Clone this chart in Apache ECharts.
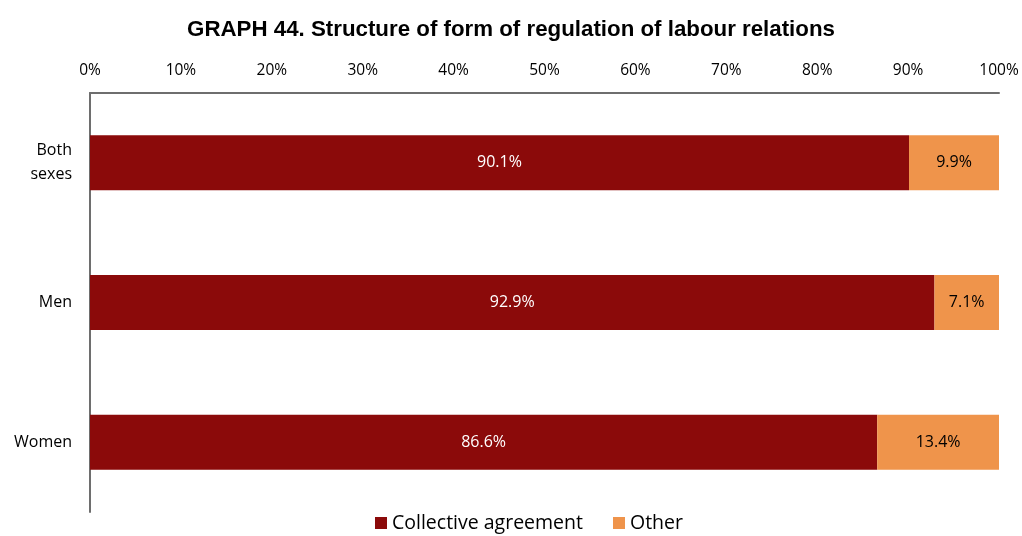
<!DOCTYPE html>
<html>
<head>
<meta charset="utf-8">
<script src="https://cdn.jsdelivr.net/npm/echarts@6/dist/echarts.min.js"></script>
<style>
  html, body { margin: 0; padding: 0; background: #fff; }
  #chart { width: 1022px; height: 536px; }
</style>
</head>
<body>
<div id="chart"></div>
<script>
// Share of employees by form of regulation of labour relations
const categories = ['Both\nsexes', 'Men', 'Women'];
const collectiveAgreement = [90.1, 92.9, 86.6];
const other = [9.9, 7.1, 13.4];
const seriesNames = ['Collective agreement', 'Other'];

const labelFont = '"Open Sans", Lato, sans-serif';

const chart = echarts.init(document.getElementById('chart'));
chart.setOption({
  animation: false,
  title: {
    text: 'GRAPH 44. Structure of form of regulation of labour relations',
    left: 'center',
    top: 14,
    textStyle: { fontFamily: '"Liberation Sans", Arial, sans-serif', fontSize: 22.3, fontWeight: 'bold', color: '#000' }
  },
  grid: { left: 90, right: 23, top: 93, bottom: 24 },
  legend: {
    bottom: -2,
    left: 370,
    itemWidth: 12,
    itemHeight: 12,
    itemGap: 30,
    icon: 'rect',
    textStyle: { fontFamily: labelFont, fontSize: 19.5, color: '#000' },
    data: seriesNames
  },
  xAxis: {
    type: 'value',
    position: 'top',
    min: 0,
    max: 100,
    interval: 10,
    axisLine: { show: true, lineStyle: { color: '#6e6e6e', width: 2 } },
    axisTick: { show: false },
    splitLine: { show: false },
    axisLabel: { formatter: '{value}%', margin: 14, fontFamily: labelFont, fontSize: 15.5, color: '#000' }
  },
  yAxis: {
    type: 'category',
    inverse: true,
    data: categories,
    axisLine: { show: true, lineStyle: { color: '#6e6e6e', width: 2 } },
    axisTick: { show: false },
    axisLabel: { margin: 18, fontFamily: labelFont, fontSize: 16, color: '#000', lineHeight: 24 }
  },
  series: [
    {
      name: seriesNames[0],
      type: 'bar',
      stack: 'total',
      barWidth: 55,
      data: collectiveAgreement,
      itemStyle: { color: '#8B0A0A' },
      label: { show: true, position: 'inside', formatter: p => p.value.toFixed(1) + '%', color: '#fff', fontFamily: labelFont, fontSize: 16 }
    },
    {
      name: seriesNames[1],
      type: 'bar',
      stack: 'total',
      barWidth: 55,
      data: other,
      itemStyle: { color: '#EF944B' },
      label: { show: true, position: 'inside', formatter: p => p.value.toFixed(1) + '%', color: '#000', fontFamily: labelFont, fontSize: 16 }
    }
  ]
});
</script>
</body>
</html>
